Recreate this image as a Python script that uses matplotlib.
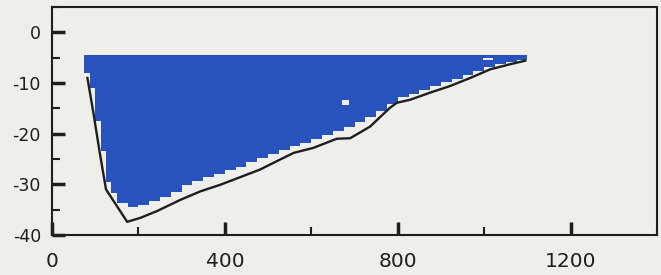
import numpy as np
import matplotlib
matplotlib.use("Agg")
import matplotlib.pyplot as plt
from matplotlib.ticker import MultipleLocator

plt.rcParams['axes.unicode_minus'] = False

# bottom profile (black line)
line_x = [82, 96, 110, 125, 174, 205, 245, 296, 343, 389, 435, 481, 528, 559, 605,
          659, 690, 736, 782, 798, 829, 875, 921, 968, 1014, 1060, 1095]
line_y = [-9.0, -16.0, -23.5, -31.0, -37.4, -36.6, -35.2, -33.1, -31.4, -30.1, -28.6,
          -27.1, -25.1, -23.8, -22.8, -21.0, -20.9, -18.6, -14.9, -13.9, -13.3, -11.9,
          -10.6, -9.0, -7.3, -6.3, -5.6]

# blue cells: column edges and lowest filled depth per column
col_edges = [75, 87.5, 100, 112.5, 125, 137.5, 150, 175, 200, 225, 250, 275, 300, 325,
             350, 375, 400, 425, 450, 475, 500, 525, 550, 575, 600, 625, 650, 675, 700,
             725, 750, 775, 800, 825, 850, 875, 900, 925, 950, 975, 1000, 1025, 1050,
             1075, 1100]
col_bottom = [-8.0, -11.0, -17.5, -23.5, -29.5, -31.8, -33.6, -34.5, -34.0, -33.3,
              -32.5, -31.5, -30.1, -29.3, -28.5, -27.9, -27.1, -26.5, -25.5, -24.8,
              -24.0, -23.3, -22.5, -21.8, -21.1, -20.2, -19.5, -18.6, -17.6, -16.8,
              -15.6, -14.1, -12.7, -12.1, -11.3, -10.5, -9.9, -9.3, -8.5, -7.7, -6.9,
              -6.3, -5.9, -5.4]
surface = -4.5

# missing cells inside the blue field
gap_x = [670, 998]
gap_y = [-14.3, -5.5]
gap_w = [18, 22]
gap_h = [0.9, 0.5]

bg = '#eeefeb'
blue = '#2853bd'
ink = '#1e1e1e'

fig = plt.figure(figsize=(6.61, 2.75), dpi=100, facecolor=bg)
ax = fig.add_axes([52/661, 1-235/275, 605/661, 228/275], facecolor=bg)

widths = np.diff(col_edges)
ax.bar(col_edges[:-1], surface - np.array(col_bottom), width=widths, bottom=col_bottom,
       align='edge', color=blue, linewidth=0, zorder=2)
ax.bar(gap_x, gap_h, width=gap_w, bottom=gap_y, align='edge', color=bg, linewidth=0, zorder=3)

ax.plot(line_x, line_y, color=ink, lw=1.7, zorder=4)

ax.set_xlim(0, 1400)
ax.set_ylim(-40, 5)
ax.xaxis.set_major_locator(MultipleLocator(400))
ax.xaxis.set_minor_locator(MultipleLocator(200))
ax.yaxis.set_major_locator(MultipleLocator(10))
ax.yaxis.set_minor_locator(MultipleLocator(5))
ax.set_yticks([0, -10, -20, -30, -40])

ax.tick_params(which='major', direction='in', length=9.5, width=2.5, color=ink)
ax.tick_params(which='minor', direction='in', length=5.5, width=1.5, color=ink)
ax.tick_params(axis='x', which='major', pad=12, labelsize=14.5, labelcolor=ink)
ax.tick_params(axis='y', which='major', pad=8, labelsize=12.5, labelcolor=ink)
for s in ax.spines.values():
    s.set_color(ink)
    s.set_linewidth(1.5)

fig.savefig('out.png', dpi=100, facecolor=bg)
